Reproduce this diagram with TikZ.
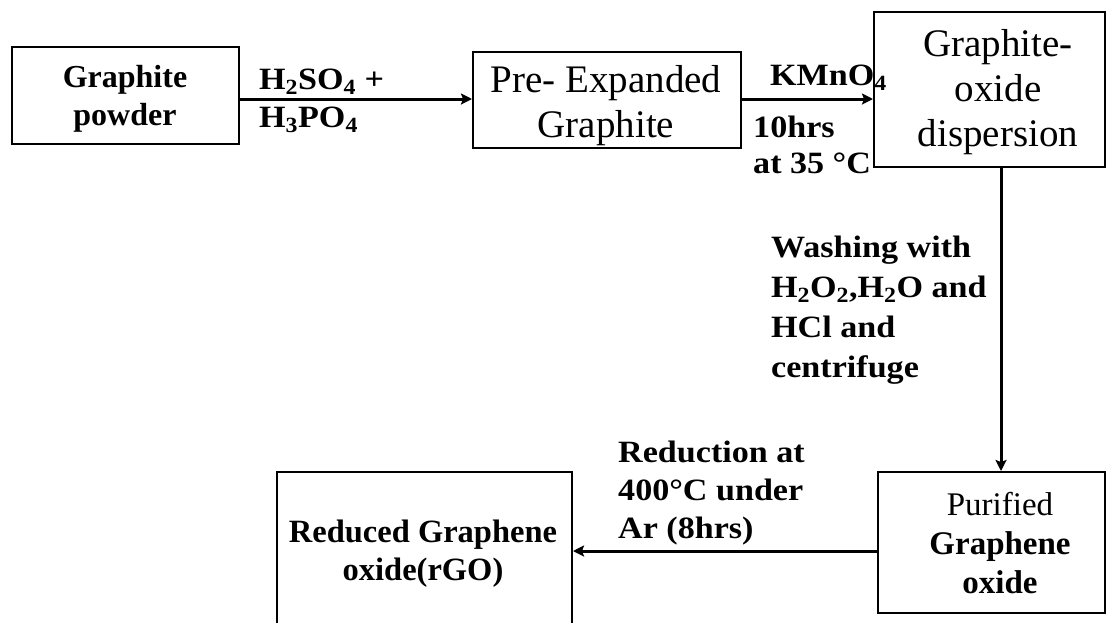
\documentclass[tikz,border=0pt]{standalone}
\usepackage{fontspec}
\setmainfont{Liberation Serif}
\newfontfamily\labfont{Liberation Serif}[FakeStretch=1.1]
\usetikzlibrary{arrows.meta}
\newcommand{\fsz}[2]{\fontsize{#1}{#2}\selectfont}
\newcommand{\sbs}[1]{\textsubscript{#1}}
\begin{document}
\begin{tikzpicture}[x=1pt,y=-1pt,
  box/.style={draw,line width=2pt,inner sep=0pt},
  btext/.style={inner sep=0pt,align=center},
  arr/.style={line width=3pt,-{Stealth[length=11pt,width=11pt,inset=2pt]}},
  lab/.style={font=\labfont\bfseries\fsz{31}{38},align=left,inner sep=0pt,anchor=base west}]
\useasboundingbox (0,0) rectangle (1111,622);
\fill[white] (0,0) rectangle (1111,622);
\clip (0,0) rectangle (1111,622);

% boxes
\node[box,minimum width=227pt,minimum height=97pt] (gp) at (125.5,95.5) {};
\node[box,minimum width=268pt,minimum height=96pt] (peg) at (607,100) {};
\node[box,minimum width=231pt,minimum height=155pt] (god) at (989.5,89.5) {};
\node[box,minimum width=227pt,minimum height=141pt] (pgo) at (991.5,542.5) {};
\node[box,minimum width=295pt,minimum height=163pt] (rgo) at (424.5,553.5) {};

% box texts
\node[btext,font=\bfseries\fsz{32}{38}] (gp-t) at (125,99) {Graphite\\powder};
\node[btext,font=\fsz{39}{45}] (peg-t) at (606,105.5) {Pre- Expanded\\Graphite};
\node[btext,font=\fsz{39}{45}] (god-t) at (998,92.5) {Graphite-\\oxide\\dispersion};
\node[btext,font=\bfseries\fsz{33}{39}] (pgo-t) at (1000,543) {{\mdseries Purified}\\Graphene\\oxide};
\node[btext,font=\bfseries\fsz{32.5}{38}] (rgo-t) at (423,553.5) {Reduced Graphene\\oxide(rGO)};

% connectors
\draw[arr] (gp.east |- 0,99) -- (peg.west |- 0,99);
\draw[arr] (peg.east |- 0,99) -- (god.west |- 0,99);
\draw[arr] (god.south -| 1001,0) -- (pgo.north -| 1001,0);
\draw[arr] (pgo.west |- 0,551) -- (rgo.east |- 0,551);

% labels (anchor = baseline of last line)
\node[lab] (l1) at (259,127) {H\sbs{2}SO\sbs{4} +\\H\sbs{3}PO\sbs{4}};
\node[lab] (l2) at (770,85) {KMnO\sbs{4}};
\node[lab,font=\labfont\bfseries\fsz{31}{36}] (l3) at (753,173) {10hrs\\at 35 °C};
\node[lab,font=\labfont\bfseries\fsz{31}{40}] (l4) at (771,377) {Washing with\\H\sbs{2}O\sbs{2},H\sbs{2}O and\\HCl and\\centrifuge};
\node[lab] (l5) at (618,538) {Reduction at\\400°C under\\Ar (8hrs)};
\end{tikzpicture}
\end{document}
